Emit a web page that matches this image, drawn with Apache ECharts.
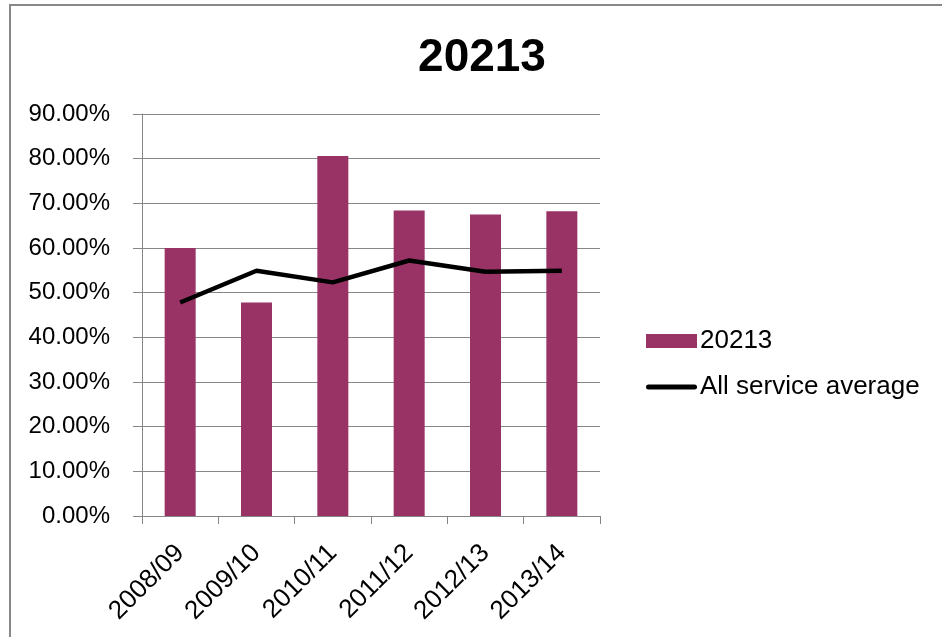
<!DOCTYPE html>
<html>
<head>
<meta charset="utf-8">
<script src="https://cdn.jsdelivr.net/npm/echarts@6/dist/echarts.min.js"></script>
<style>
  html, body { margin: 0; padding: 0; background: #fff; }
  #chart { width: 942px; height: 637px; }
</style>
</head>
<body>
<div id="chart"></div>
<script>
// Yearly rate for service 20213 against the all-service average (percent)
const years = ['2008/09', '2009/10', '2010/11', '2011/12', '2012/13', '2013/14'];
const serviceRate = [60.0, 47.8, 80.6, 68.4, 67.5, 68.2];
const allServiceAverage = [47.8, 54.9, 52.3, 57.2, 54.7, 54.9];
const yTicks = { min: 0, max: 90, step: 10 };

const font = 'Arial, "Liberation Sans", sans-serif';
const chart = echarts.init(document.getElementById('chart'));

chart.setOption({
  animation: false,
  backgroundColor: '#ffffff',
  textStyle: { fontFamily: font },
  title: {
    text: '20213',
    left: 477,
    textAlign: 'center',
    top: 30,
    textStyle: { fontFamily: font, fontSize: 46, fontWeight: 'bold', color: '#000' }
  },
  graphic: [{
    type: 'rect',
    shape: { x: 10, y: 5, width: 1000, height: 1000 },
    style: { fill: 'none', stroke: '#888888', lineWidth: 2 },
    z: 100
  }],
  legend: {
    orient: 'vertical',
    left: 641,
    top: 323,
    itemWidth: 51,
    itemHeight: 14,
    itemGap: 20,
    textStyle: { fontFamily: font, fontSize: 26, color: '#000', padding: [0, 0, 0, -2] },
    data: [
      { name: '20213', icon: 'rect' },
      {
        name: 'All service average',
        icon: 'path://M2.5,0 H48.5 A2.5,2.5 0 0 1 48.5,5 H2.5 A2.5,2.5 0 0 1 2.5,0 Z',
        itemStyle: { color: '#000' }
      }
    ]
  },
  grid: { left: 142, right: 342, top: 114, bottom: 121 },
  xAxis: {
    type: 'category',
    data: years,
    boundaryGap: true,
    axisLine: { lineStyle: { color: '#868686', width: 1 } },
    axisTick: { show: true, alignWithLabel: false, length: 8, lineStyle: { color: '#868686' } },
    axisLabel: { rotate: 45, margin: 33, fontSize: 26, color: '#000', fontFamily: font, interval: 0 }
  },
  yAxis: {
    type: 'value',
    min: yTicks.min,
    max: yTicks.max,
    interval: yTicks.step,
    axisLine: { show: true, lineStyle: { color: '#868686', width: 1 } },
    axisTick: { show: true, length: 9, lineStyle: { color: '#868686' } },
    splitLine: { show: true, lineStyle: { color: '#868686', width: 1 } },
    axisLabel: {
      fontSize: 24, color: '#000', fontFamily: font, margin: 32,
      padding: [5, 0, 0, 0],
      formatter: v => v.toFixed(2) + '%'
    }
  },
  series: [
    {
      name: '20213',
      type: 'bar',
      data: serviceRate,
      barWidth: 31,
      itemStyle: { color: '#993366' }
    },
    {
      name: 'All service average',
      type: 'line',
      data: allServiceAverage,
      symbol: 'none',
      lineStyle: { color: '#000', width: 4.5 },
      itemStyle: { color: '#000' },
      z: 5
    }
  ]
});
</script>
</body>
</html>
